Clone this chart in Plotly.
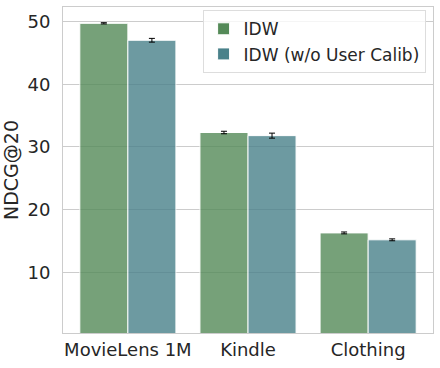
import plotly.graph_objects as go

datasets = ['MovieLens 1M', 'Kindle', 'Clothing']
idw = [49.7, 32.3, 16.3]
idw_err = [0.1, 0.2, 0.15]
idw_nocalib = [47.0, 31.8, 15.2]
idw_nocalib_err = [0.3, 0.4, 0.15]

font = 'DejaVu Sans'

fig = go.Figure()
fig.add_trace(go.Bar(x=datasets, y=idw, name='IDW',
                     marker=dict(color='#548a58', opacity=0.8,
                                 line=dict(color='white', width=1)),
                     error_y=dict(type='data', array=idw_err, color='black',
                                  thickness=1, width=3)))
fig.add_trace(go.Bar(x=datasets, y=idw_nocalib, name='IDW (w/o User Calib)',
                     marker=dict(color='#49818a', opacity=0.8,
                                 line=dict(color='white', width=1)),
                     error_y=dict(type='data', array=idw_nocalib_err, color='black',
                                  thickness=1, width=3)))

fig.update_layout(
    width=440, height=368,
    margin=dict(l=63, r=7, t=7, b=35),
    barmode='group', bargap=0.2, bargroupgap=0,
    plot_bgcolor='white', paper_bgcolor='white',
    font=dict(family=font, size=18, color='#262626'),
    legend=dict(x=0.98, y=0.99, xanchor='right', yanchor='top',
                bgcolor='rgba(255,255,255,0.8)', bordercolor='#dddddd', borderwidth=1,
                font=dict(size=17)),
)
fig.update_xaxes(range=[-0.54, 2.54], showline=True, linecolor='#cccccc', mirror=True,
                 showgrid=False, ticks='', tickfont=dict(size=18), automargin=False)
fig.update_yaxes(range=[0.35, 52.3], tickvals=[10, 20, 30, 40, 50],
                 showline=True, linecolor='#cccccc', mirror=True,
                 gridcolor='#cccccc', zeroline=False, ticks='',
                 ticklabelstandoff=8, automargin=False,
                 title=dict(text='NDCG@20', font=dict(size=19), standoff=5),
                 tickfont=dict(size=18))

# page has a default body margin, drop it so the figure sits at 0,0
fig.write_html('out.html', config={'displayModeBar': False},
               post_script="document.body.style.margin='0';")
